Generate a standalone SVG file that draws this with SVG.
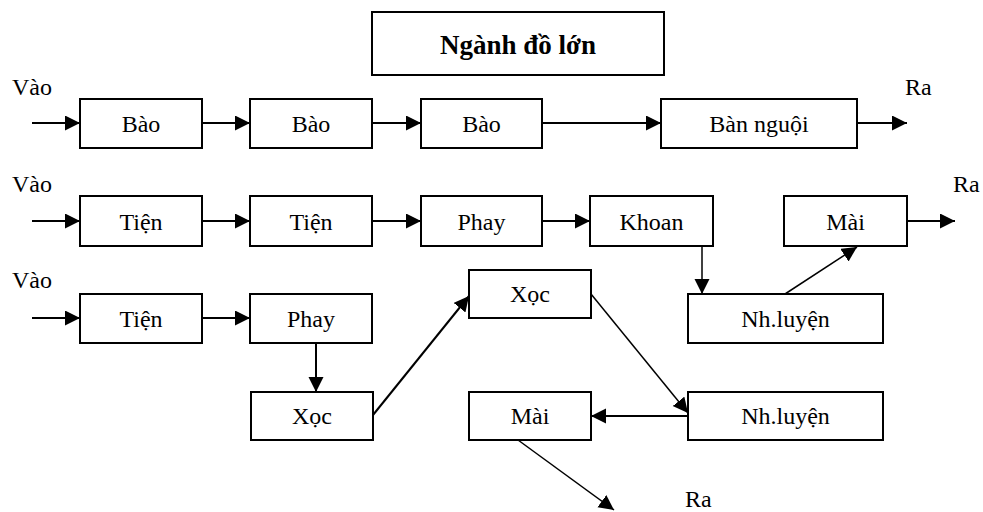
<svg xmlns="http://www.w3.org/2000/svg" width="983" height="512" viewBox="0 0 983 512">
<style>
.box{fill:#fff;stroke:#000;stroke-width:2}
.t{font-family:"Liberation Serif","Times New Roman",serif;font-size:24px;fill:#000}
.c{text-anchor:middle}
.title{font-family:"Liberation Serif","Times New Roman",serif;font-size:27px;font-weight:bold;text-anchor:middle}
.ln{stroke:#000;stroke-width:2;fill:none;marker-end:url(#ah)}
.thin{stroke-width:1.5}
</style>
<defs>
<marker id="ah" markerUnits="userSpaceOnUse" markerWidth="16" markerHeight="16" refX="15" refY="7.5" orient="auto" viewBox="0 0 16 16">
<path d="M0,0 L15,7.5 L0,15 z" fill="#000"/>
</marker>
</defs>
<rect width="983" height="512" fill="#fff"/>
<g id="title"><rect class="box" x="372" y="12" width="292" height="63"/><text class="title" x="518" y="54">Ngành đồ lớn</text></g>
<g id="labels">
<text class="t" x="12" y="95">Vào</text>
<text class="t" x="905" y="95">Ra</text>
<text class="t" x="12" y="192">Vào</text>
<text class="t" x="953" y="192">Ra</text>
<text class="t" x="12" y="288">Vào</text>
<text class="t" x="685" y="507">Ra</text>
</g>
<g id="r1n1"><rect class="box" x="80" y="99" width="122" height="49"/><text class="t c" x="141" y="132">Bào</text></g>
<g id="r1n2"><rect class="box" x="250" y="99" width="122" height="49"/><text class="t c" x="311" y="132">Bào</text></g>
<g id="r1n3"><rect class="box" x="421" y="99" width="121" height="49"/><text class="t c" x="481.5" y="132">Bào</text></g>
<g id="r1n4"><rect class="box" x="661" y="99" width="196" height="49"/><text class="t c" x="759" y="132">Bàn nguội</text></g>
<g id="r2n1"><rect class="box" x="80" y="196" width="122" height="50"/><text class="t c" x="141" y="230">Tiện</text></g>
<g id="r2n2"><rect class="box" x="250" y="196" width="122" height="50"/><text class="t c" x="311" y="230">Tiện</text></g>
<g id="r2n3"><rect class="box" x="421" y="196" width="121" height="50"/><text class="t c" x="481.5" y="230">Phay</text></g>
<g id="r2n4"><rect class="box" x="590" y="196" width="123" height="50"/><text class="t c" x="651.5" y="230">Khoan</text></g>
<g id="r2n5"><rect class="box" x="784" y="196" width="123" height="50"/><text class="t c" x="845.5" y="230">Mài</text></g>
<g id="r2n6"><rect class="box" x="688" y="294" width="195" height="49"/><text class="t c" x="785.5" y="327">Nh.luyện</text></g>
<g id="r3n1"><rect class="box" x="80" y="294" width="122" height="49"/><text class="t c" x="141" y="327">Tiện</text></g>
<g id="r3n2"><rect class="box" x="250" y="294" width="122" height="49"/><text class="t c" x="311" y="327">Phay</text></g>
<g id="r3n3"><rect class="box" x="251" y="392" width="122" height="48"/><text class="t c" x="312" y="424">Xọc</text></g>
<g id="r3n4"><rect class="box" x="469" y="270" width="122" height="48"/><text class="t c" x="530" y="302">Xọc</text></g>
<g id="r3n5"><rect class="box" x="688" y="392" width="195" height="48"/><text class="t c" x="785.5" y="424">Nh.luyện</text></g>
<g id="r3n6"><rect class="box" x="469" y="392" width="122" height="48"/><text class="t c" x="530" y="424">Mài</text></g>
<g id="connectors">
<line class="ln" x1="32" y1="123" x2="80" y2="123"/>
<line class="ln" x1="202" y1="123" x2="250" y2="123"/>
<line class="ln" x1="372" y1="123" x2="421" y2="123"/>
<line class="ln" x1="542" y1="123" x2="661" y2="123"/>
<line class="ln" x1="857" y1="123" x2="907" y2="123"/>
<line class="ln" x1="32" y1="221" x2="80" y2="221"/>
<line class="ln" x1="202" y1="221" x2="250" y2="221"/>
<line class="ln" x1="372" y1="221" x2="421" y2="221"/>
<line class="ln" x1="542" y1="221" x2="590" y2="221"/>
<line class="ln thin" x1="702" y1="246" x2="702" y2="294"/>
<line class="ln thin" x1="785" y1="294" x2="857" y2="247"/>
<line class="ln" x1="907" y1="221" x2="955" y2="221"/>
<line class="ln" x1="32" y1="318" x2="80" y2="318"/>
<line class="ln" x1="202" y1="318" x2="250" y2="318"/>
<line class="ln" x1="316" y1="343" x2="316" y2="392"/>
<line class="ln" x1="373" y1="415" x2="469" y2="296"/>
<line class="ln thin" x1="591" y1="294" x2="688" y2="413"/>
<line class="ln" x1="688" y1="416" x2="591" y2="416"/>
<line class="ln thin" x1="518" y1="440" x2="614" y2="510"/>
</g>
</svg>
